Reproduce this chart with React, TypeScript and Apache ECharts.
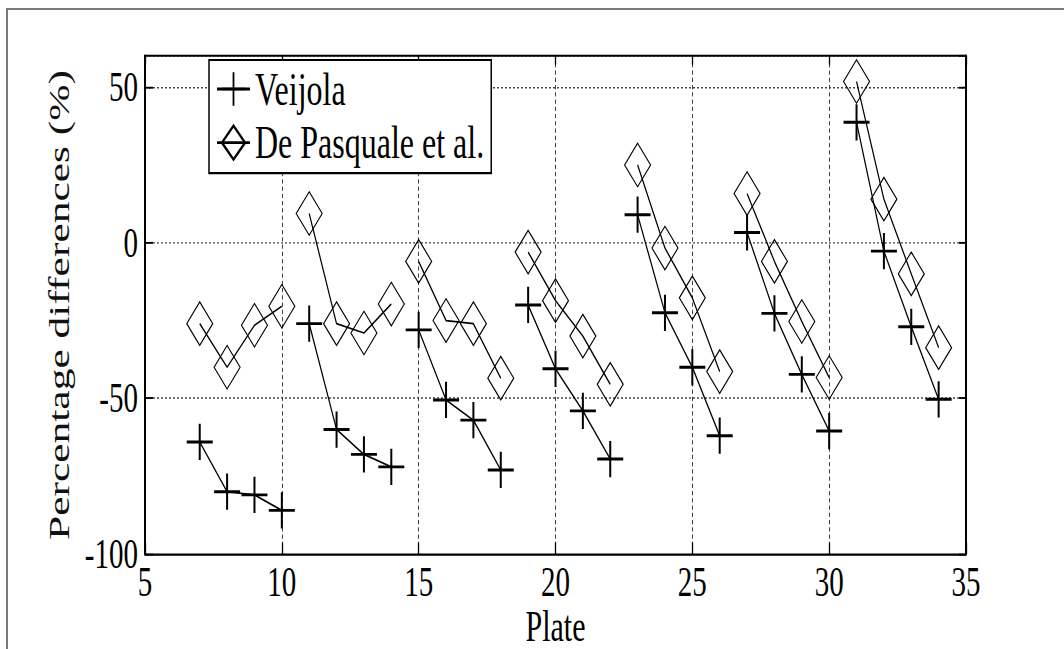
import React, { useEffect, useRef } from "react";
import * as echarts from "echarts";

// ---- data ----
const plates = [7, 8, 9, 10, 11, 12, 13, 14, 15, 16, 17, 18, 19, 20, 21, 22, 23, 24, 25, 26, 27, 28, 29, 30, 31, 32, 33, 34];
const veijola = [-64, -80, -81, -86, -26, -60, -68, -72, -28, -50.5, -57, -73, -20, -40.5, -54, -69.5, 9, -22.5, -40, -62, 3.3, -22.7, -42.3, -60.5, 38.7, -2.7, -27, -50.3];
const dePasquale = [-26, -40, -26.5, -20.4, 9.4, -26, -29, -19.7, -6, -25, -26, -43.5, -3, -18.6, -30, -45.5, 25, -1.7, -17.7, -41.4, 15.8, -6, -25.3, -43.3, 51.8, 14, -10, -33.7];
const groupSize = 4;
const seriesNames = ["Veijola", "De Pasquale et al."];
const xTitle = "Plate";
const yTitle = "Percentage differences (%)";

// ---- layout ----
const W = 1064;
const H = 649;
const S = 1.45; // vertical stretch of the original figure
const HP = H / S + 40;
const SERIF = "Liberation Serif";
const PLUS = "path://M0,11.5H26V13.5H0Z M12,0H14V25H12Z";

export default function App() {
  const ref = useRef<HTMLDivElement>(null);

  useEffect(() => {
    if (!ref.current) return;
    const chart = echarts.init(ref.current, null, { renderer: "svg", width: W, height: HP });

    const series: any[] = [];
    for (let s = 0; s < plates.length; s += groupSize) {
      const xs = plates.slice(s, s + groupSize);
      series.push({
        name: seriesNames[1],
        type: "line",
        data: xs.map((p, k) => [p, dePasquale[s + k]]),
        symbol: "diamond",
        symbolSize: [26, 30],
        showAllSymbol: true,
        lineStyle: { color: "#000", width: 1.2 },
        itemStyle: { color: "rgba(0,0,0,0)", borderColor: "#000", borderWidth: 1 },
        silent: true,
        emphasis: { disabled: true },
      });
      series.push({
        name: seriesNames[0],
        type: "line",
        data: xs.map((p, k) => [p, veijola[s + k]]),
        symbol: PLUS,
        symbolSize: [26, 25],
        showAllSymbol: true,
        lineStyle: { color: "#000", width: 1.2 },
        itemStyle: { color: "#000", borderWidth: 0 },
        silent: true,
        emphasis: { disabled: true },
      });
    }

    const axisLineX = { show: true, onZero: false, lineStyle: { color: "#000", width: 1.4 } };
    const axisLineY = { show: true, onZero: false, lineStyle: { color: "#000", width: 2 } };

    chart.setOption({
      animation: false,
      backgroundColor: "transparent",
      grid: {
        left: 145,
        right: W - 966,
        top: 56 / S,
        height: (554 - 56) / S,
        containLabel: false,
        outerBoundsMode: "none",
      },
      legend: {
        orient: "vertical",
        left: 209,
        top: 60 / S,
        padding: [4, 7, 5, 7],
        itemGap: 5,
        itemWidth: 33,
        itemHeight: 29,
        borderColor: "#000",
        borderWidth: 1.5,
        backgroundColor: "#fff",
        selectedMode: false,
        data: seriesNames.map((n) => ({ name: n })),
        textStyle: { fontFamily: SERIF, fontSize: 32, color: "#000" },
      },
      xAxis: [
        {
          type: "value",
          min: 5,
          max: 35,
          interval: 5,
          position: "bottom",
          axisLine: axisLineX,
          axisTick: { show: true, inside: true, length: 8, lineStyle: { color: "#000", width: 1.3 } },
          axisLabel: { fontFamily: SERIF, fontSize: 29, color: "#000", margin: 5, showMinLabel: true, showMaxLabel: true },
          splitLine: { show: true, lineStyle: { color: "#444", width: 1, type: [3, 2] } },
          name: xTitle,
          nameLocation: "middle",
          nameGap: 35,
          nameMoveOverlap: false,
          nameTextStyle: { fontFamily: SERIF, fontSize: 30, color: "#000" },
        },
        {
          type: "value",
          min: 5,
          max: 35,
          interval: 5,
          position: "top",
          axisLine: axisLineX,
          axisTick: { show: true, inside: true, length: 6, lineStyle: { color: "#000", width: 1.3 } },
          axisLabel: { show: false },
          splitLine: { show: false },
        },
      ],
      yAxis: [
        {
          type: "value",
          min: -100,
          max: 60,
          interval: 50,
          position: "left",
          axisLine: axisLineY,
          axisTick: { show: true, inside: true, length: 8, lineStyle: { color: "#000", width: 1.3 } },
          axisLabel: { fontFamily: SERIF, fontSize: 29, color: "#000", margin: 7, showMinLabel: true, showMaxLabel: false },
          splitLine: { show: true, lineStyle: { color: "#444", width: 1, type: [2, 2] } },
          name: yTitle,
          nameLocation: "middle",
          nameRotate: 90,
          nameGap: 68,
          nameTextStyle: { fontFamily: SERIF, fontSize: 30, color: "#111", fontWeight: "normal" },
        },
        {
          type: "value",
          min: -100,
          max: 60,
          interval: 50,
          position: "right",
          axisLine: axisLineY,
          axisTick: { show: true, inside: true, length: 7, lineStyle: { color: "#000", width: 1.3 } },
          axisLabel: { show: false },
          splitLine: { show: false },
        },
      ],
      series,
    });

    return () => chart.dispose();
  }, []);

  return (
    <div style={{ position: "absolute", left: 0, top: 0, width: W, height: H, background: "#fff", overflow: "hidden" }}>
      <div
        ref={ref}
        style={{ position: "absolute", left: 0, top: 0, width: W, height: HP, transform: `scaleY(${S})`, transformOrigin: "0 0" }}
      />
      <div style={{ position: "absolute", left: 6, top: 8, width: W - 6, height: 2, background: "#7a7a7a" }} />
      <div style={{ position: "absolute", left: 6, top: 8, width: 2, height: H - 8, background: "#7a7a7a" }} />
    </div>
  );
}
